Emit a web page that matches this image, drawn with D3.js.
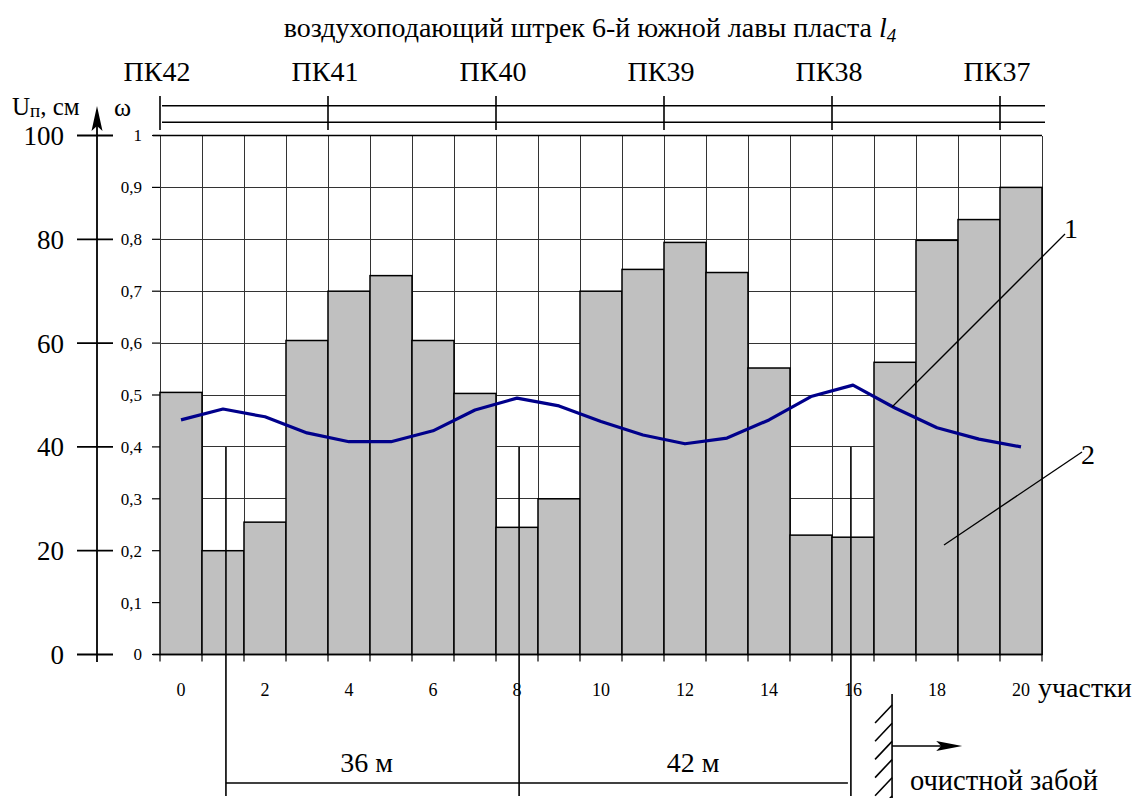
<!DOCTYPE html>
<html><head><meta charset="utf-8">
<script src="https://cdn.jsdelivr.net/npm/d3@7"></script>
<style>
html,body{margin:0;padding:0;background:#fff;}
text{font-family:"Liberation Serif","Times New Roman",serif;fill:#000;}
</style></head>
<body>
<svg id="chart" width="1139" height="798"></svg>
<script>
// ---- data ----
const sections = d3.range(0, 21);                 // участки 0..20
const omega = [0.505, 0.20, 0.255, 0.605, 0.70, 0.73, 0.605, 0.503, 0.245, 0.30,
               0.70, 0.742, 0.794, 0.736, 0.552, 0.23, 0.226, 0.563, 0.798, 0.838, 0.90];
const uDisp = [45.2, 47.3, 45.8, 42.7, 41.0, 41.0, 43.1, 47.1, 49.4, 47.9, 44.9,
               42.3, 40.6, 41.7, 45.2, 49.7, 51.9, 47.5, 43.7, 41.5, 40.0];
const pkLabels = ["ПК42", "ПК41", "ПК40", "ПК39", "ПК38", "ПК37"];
const pkAt = [0, 4, 8, 12, 16, 20];
const uTicks = [0, 20, 40, 60, 80, 100];
const omegaTicks = [0, 0.1, 0.2, 0.3, 0.4, 0.5, 0.6, 0.7, 0.8, 0.9, 1];
const xLabelTicks = [0, 2, 4, 6, 8, 10, 12, 14, 16, 18, 20];
const markers = [1.57, 8.55, 16.45];              // distance markers (in sections)
const distLabels = ["36 м", "42 м"];
const facePos = 17.43, faceArrowTo = 19.1;

// ---- scales ----
const svg = d3.select("#chart");
const x = d3.scaleLinear().domain([0, 21]).range([160, 1042]);
const y = d3.scaleLinear().domain([0, 1]).range([654.5, 135.5]);
const yU = d3.scaleLinear().domain([0, 100]).range([654.5, 135.5]);

// title
const title = svg.append("text").attr("x", 590).attr("y", 37).attr("text-anchor", "middle")
  .style("font-size", "28px");
title.append("tspan").text("воздухоподающий штрек 6-й южной лавы пласта ");
title.append("tspan").style("font-style", "italic").text("l");
title.append("tspan").style("font-style", "italic").style("font-size", "19px").attr("dy", 5).text("4");

// PK band
const band = svg.append("g");
[105.7, 122.3].forEach(yy => band.append("line").attr("x1", 162).attr("x2", 1045)
  .attr("y1", yy).attr("y2", yy).attr("stroke", "#000").attr("stroke-width", 1.6));
band.selectAll("line.pk").data(pkAt).join("line").attr("class", "pk")
  .attr("x1", d => x(d)).attr("x2", d => x(d)).attr("y1", 96).attr("y2", 130)
  .attr("stroke", "#000").attr("stroke-width", 1.6);
band.selectAll("text").data(pkLabels).join("text")
  .attr("x", (d, i) => x(pkAt[i]) - 3).attr("y", 81).attr("text-anchor", "middle")
  .style("font-size", "28px").text(d => d);

// grid
const grid = svg.append("g").attr("stroke", "#333").attr("stroke-width", 1).attr("shape-rendering", "crispEdges");
grid.selectAll("line.h").data(omegaTicks).join("line").attr("class", "h")
  .attr("x1", x(0)).attr("x2", x(21)).attr("y1", d => y(d)).attr("y2", d => y(d));
grid.selectAll("line.v").data(d3.range(0, 22)).join("line").attr("class", "v")
  .attr("x1", d => x(d)).attr("x2", d => x(d)).attr("y1", y(1)).attr("y2", y(0));

// bars
svg.append("g").selectAll("rect").data(sections).join("rect")
  .attr("x", d => x(d)).attr("width", x(1) - x(0))
  .attr("y", d => y(omega[d])).attr("height", d => y(0) - y(omega[d]))
  .attr("fill", "#c0c0c0").attr("stroke", "#000").attr("stroke-width", 1.5);

// x axis line + ticks
svg.append("line").attr("x1", 153).attr("x2", x(21)).attr("y1", y(0)).attr("y2", y(0))
  .attr("stroke", "#000").attr("stroke-width", 1.5);
svg.append("g").selectAll("line").data(d3.range(0, 22)).join("line")
  .attr("x1", d => x(d)).attr("x2", d => x(d)).attr("y1", y(0)).attr("y2", y(0) + 7)
  .attr("stroke", "#000").attr("stroke-width", 1.2);
svg.append("g").selectAll("text").data(xLabelTicks).join("text")
  .attr("x", d => x(d + 0.5)).attr("y", 696).attr("text-anchor", "middle")
  .style("font-size", "18px").text(d => d);
svg.append("text").attr("x", 1038).attr("y", 697).style("font-size", "28px").text("участки");

// omega axis (inner)
svg.append("g").selectAll("line").data(omegaTicks).join("line")
  .attr("x1", 152).attr("x2", x(0)).attr("y1", d => y(d)).attr("y2", d => y(d))
  .attr("stroke", "#000").attr("stroke-width", 1.2);
svg.append("line").attr("x1", 153).attr("x2", x(21)).attr("y1", y(1)).attr("y2", y(1))
  .attr("stroke", "#000").attr("stroke-width", 1.5);
svg.append("g").selectAll("text").data(omegaTicks).join("text")
  .attr("x", 142).attr("y", d => y(d)).attr("dy", "0.35em").attr("text-anchor", "end")
  .style("font-size", "17px").text(d => d3.format("~g")(d).replace(".", ","));
svg.append("text").attr("x", 114).attr("y", 116).style("font-size", "26px").text("ω");

// U axis (outer)
svg.append("line").attr("x1", 97).attr("x2", 97).attr("y1", 112).attr("y2", 662)
  .attr("stroke", "#000").attr("stroke-width", 1.8);
svg.append("path").attr("d", "M97,106 L102.5,131 L97,126 L91.5,131 Z").attr("fill", "#000");
svg.append("g").selectAll("line").data(uTicks).join("line")
  .attr("x1", 77).attr("x2", 113).attr("y1", d => yU(d)).attr("y2", d => yU(d))
  .attr("stroke", "#000").attr("stroke-width", 1.8);
svg.append("g").selectAll("text").data(uTicks).join("text")
  .attr("x", 64).attr("y", d => yU(d)).attr("dy", "0.35em").attr("text-anchor", "end")
  .style("font-size", "27px").text(d => d);
const ul = svg.append("text").attr("x", 12).attr("y", 115).style("font-size", "25px");
ul.append("tspan").text("U");
ul.append("tspan").style("font-size", "19px").attr("dy", 2).text("п");
ul.append("tspan").attr("dy", -2).text(", см");

// line series
svg.append("path").datum(sections)
  .attr("d", d3.line().x(d => x(d + 0.5)).y(d => yU(uDisp[d])))
  .attr("fill", "none").attr("stroke", "#00008b").attr("stroke-width", 3.2)
  .attr("stroke-linejoin", "round");

// distance markers
const ann = svg.append("g").attr("stroke", "#000").attr("stroke-width", 1.6);
ann.selectAll("line.m").data(markers).join("line").attr("class", "m")
  .attr("x1", d => x(d)).attr("x2", d => x(d)).attr("y1", y(0.4)).attr("y2", 796);
ann.append("line").attr("x1", x(markers[0])).attr("x2", x(markers[2]) - 3)
  .attr("y1", 783).attr("y2", 783);
svg.append("g").selectAll("text").data(distLabels).join("text")
  .attr("x", (d, i) => (x(markers[i]) + x(markers[i + 1])) / 2 - (i === 0 ? 6 : -8))
  .attr("y", 772).attr("text-anchor", "middle").style("font-size", "28px").text(d => d);

// face (очистной забой)
const face = svg.append("g").attr("stroke", "#000").attr("stroke-width", 1.6);
face.append("line").attr("x1", x(facePos)).attr("x2", x(facePos)).attr("y1", 694).attr("y2", 798);
face.selectAll("line.h").data(d3.range(0, 6)).join("line").attr("class", "h")
  .attr("x1", x(facePos)).attr("y1", d => 705 + d * 18.2)
  .attr("x2", x(facePos) - 17).attr("y2", d => 705 + d * 18.2 + 18);
face.append("line").attr("x1", x(facePos)).attr("x2", x(faceArrowTo) - 20)
  .attr("y1", 746).attr("y2", 746);
svg.append("path")
  .attr("d", `M${x(faceArrowTo)},746 L${x(faceArrowTo) - 26},741 L${x(faceArrowTo) - 21},746 L${x(faceArrowTo) - 26},751 Z`)
  .attr("fill", "#000");
svg.append("text").attr("x", 910).attr("y", 790).style("font-size", "28.5px").text("очистной забой");

// callouts
svg.append("line").attr("x1", 892).attr("y1", 407).attr("x2", 1065).attr("y2", 234)
  .attr("stroke", "#000").attr("stroke-width", 1.3);
svg.append("text").attr("x", 1064).attr("y", 238).style("font-size", "28px").text("1");
svg.append("line").attr("x1", 944).attr("y1", 545).attr("x2", 1082).attr("y2", 452)
  .attr("stroke", "#000").attr("stroke-width", 1.3);
svg.append("text").attr("x", 1081).attr("y", 464).style("font-size", "28px").text("2");
</script>
</body></html>
